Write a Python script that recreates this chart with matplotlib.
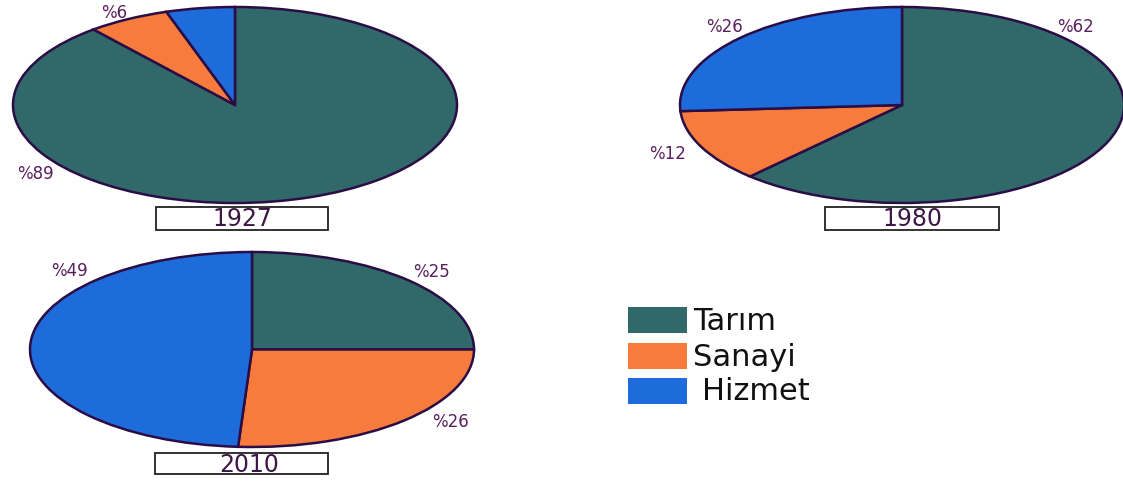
import matplotlib.pyplot as plt
from matplotlib.patches import Rectangle

# data
sectors = ['Tarım', 'Sanayi', 'Hizmet']
colors = ['#31696b', '#f77b3d', '#1e6bdb']
years = ['1927', '1980', '2010']
share_1927 = [89, 6, 5]
share_1980 = [62, 12, 26]
share_2010 = [25, 26, 49]
labels_1927 = ['%89', '%6', '']
labels_1980 = ['%62', '%12', '%26']
labels_2010 = ['%25', '%26', '%49']

W, H = 1123, 483
fig = plt.figure(figsize=(W / 100, H / 100), dpi=100)
fig.patch.set_facecolor('white')

edge = '#2a0d45'
txt_col = '#5a1f5e'
font = 'DejaVu Sans'


def px_axes(left, top, right, bottom):
    return fig.add_axes([left / W, 1 - bottom / H, (right - left) / W, (bottom - top) / H])


# ellipse boxes (pixels) and label positions (axes fraction)
pies = [
    (share_1927, labels_1927, (13, 7, 457, 203), [(0.05, 0.15), (0.227, 0.97), None]),
    (share_1980, labels_1980, (680, 7, 1124, 203), [(0.89, 0.90), (-0.027, 0.25), (0.10, 0.90)]),
    (share_2010, labels_2010, (30, 252, 474, 447), [(0.905, 0.897), (0.946, 0.128), (0.088, 0.903)]),
]

for vals, labs, box, lpos in pies:
    ax = px_axes(*box)
    wedges, _ = ax.pie(vals, colors=colors, startangle=90, counterclock=False,
                       wedgeprops=dict(edgecolor=edge, linewidth=1.8))
    for w in wedges:
        w.set_clip_on(False)
    ax.set_aspect('auto')
    ax.set_xlim(-1, 1)
    ax.set_ylim(-1, 1)
    ax.axis('off')
    for lab, pos in zip(labs, lpos):
        if lab and pos:
            ax.text(pos[0], pos[1], lab, transform=ax.transAxes, ha='center', va='center',
                    fontsize=12, color=txt_col, family=font)

# overlay for year boxes and legend, in pixel coordinates
ov = fig.add_axes([0, 0, 1, 1])
ov.set_xlim(0, W)
ov.set_ylim(H, 0)
ov.axis('off')

year_boxes = [(156, 207, 328, 230), (825, 207, 999, 230), (155, 453, 328, 474)]
for yr, (x0, y0, x1, y1) in zip(years, year_boxes):
    ov.add_patch(Rectangle((x0, y0), x1 - x0, y1 - y0, facecolor='white',
                           edgecolor='#222222', linewidth=1.3))
    ov.text((x0 + x1) / 2 + (8 if yr == '2010' else 0), (y0 + y1) / 2 + 1, yr,
            ha='center', va='center', fontsize=17, color='#3d1745', family=font)

leg_rows = [307, 343, 378]
for name, c, y in zip(sectors, colors, leg_rows):
    ov.add_patch(Rectangle((628, y), 59, 26, facecolor=c, edgecolor='none'))
    ov.text(693 + (9 if name == 'Hizmet' else 0), y + 14, name, ha='left', va='center',
            fontsize=22, color='#111111', family=font)

fig.savefig('out.png', dpi=100)
